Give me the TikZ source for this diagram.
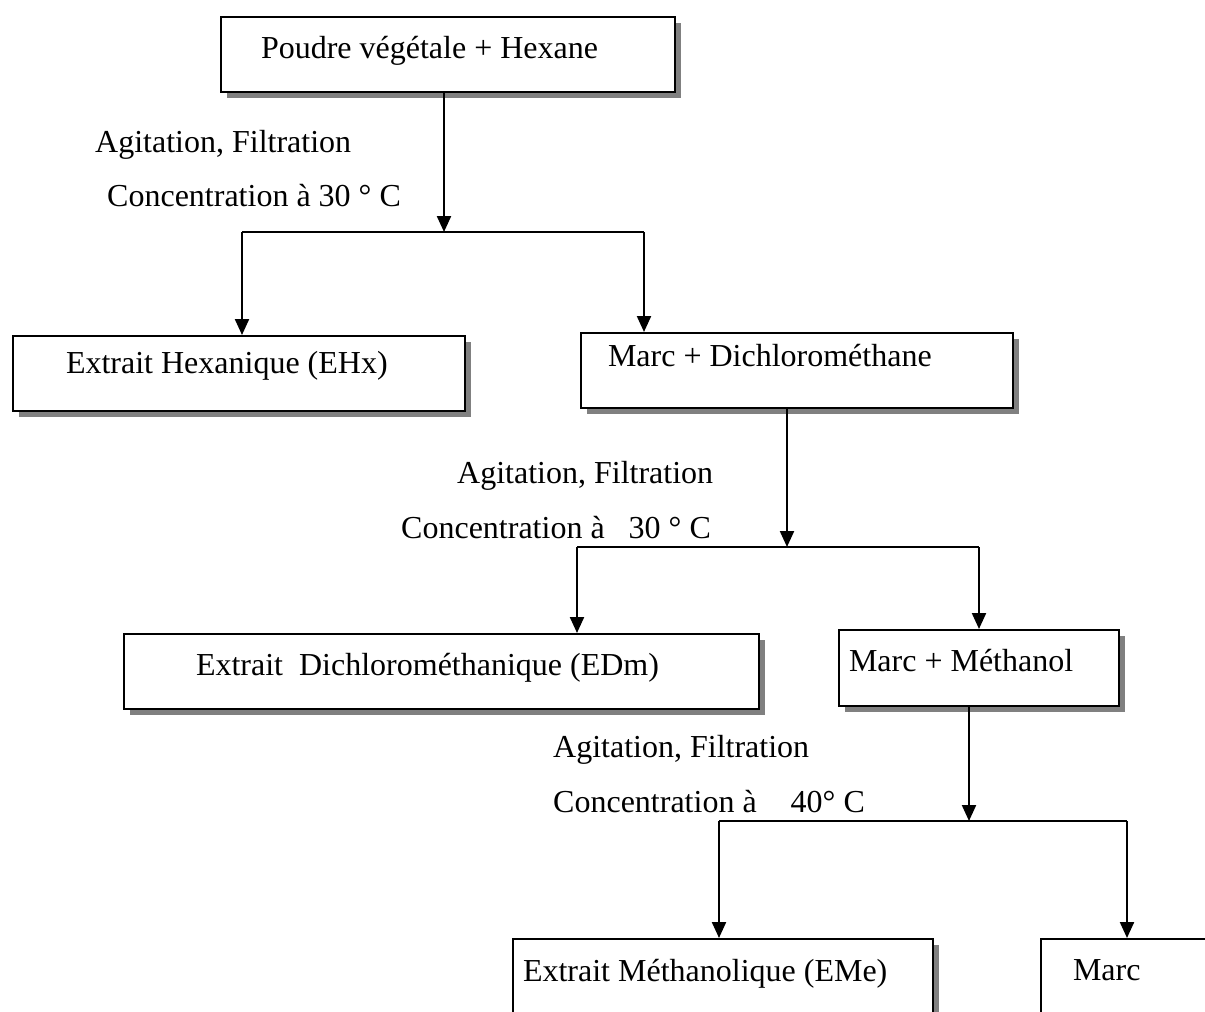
\documentclass[tikz,border=0pt]{standalone}
\usepackage{fontspec}
\setmainfont{Liberation Serif}
\usetikzlibrary{arrows.meta,shadows}
\begin{document}
\begin{tikzpicture}[x=1pt,y=-1pt,
  font=\fontsize{32}{38}\selectfont,
  box/.style={draw, line width=2pt, fill=white, inner ysep=0pt, anchor=north west,
    drop shadow={shadow xshift=6pt, shadow yshift=-6pt, fill=black!50, opacity=1}},
  lbl/.style={anchor=base west, inner sep=0pt},
  line/.style={line width=2.2pt},
  arr/.style={line width=2.2pt, -{Triangle[width=14pt,length=16pt]}}]
\useasboundingbox (0,0) rectangle (1205,1012);
\clip (0,0) rectangle (1205,1012);
% boxes: text height = baseline-top, text depth = bottom-baseline, inner xsep = pad, content width = w-2pad
\node[box, inner xsep=40pt, text height=41pt, text depth=34pt] (b1) at (220,16) {\makebox[374pt][l]{Poudre végétale + Hexane}};
\node[box, inner xsep=53pt, text height=37pt, text depth=38pt] (ehx) at (12,335) {\makebox[346pt][l]{Extrait Hexanique (EHx)}};
\node[box, inner xsep=27pt, text height=33pt, text depth=42pt] (mdc) at (580,332) {\makebox[378pt][l]{Marc + Dichlorométhane}};
\node[box, inner xsep=72pt, text height=41pt, text depth=34pt] (edm) at (123,633) {\makebox[491pt][l]{Extrait\ \ Dichlorométhanique (EDm)}};
\node[box, inner xsep=10pt, text height=41pt, text depth=35pt] (mme) at (838,629) {\makebox[260pt][l]{Marc + Méthanol}};
\node[box, inner xsep=10pt, text height=42pt, text depth=100pt] (eme) at (512,938) {\makebox[400pt][l]{Extrait Méthanolique (EMe)}};
\node[box, inner xsep=32pt, text height=41pt, text depth=100pt] (marc) at (1040,938) {\makebox[136pt][l]{Marc}};
% labels
\node[lbl] (l1a) at (95,152) {Agitation, Filtration};
\node[lbl] (l1b) at (107,206) {Concentration à 30 ° C};
\node[lbl] (l2a) at (457,483) {Agitation, Filtration};
\node[lbl] (l2b) at (401,538) {Concentration à \hspace{16pt}30 ° C};
\node[lbl] (l3a) at (553,757) {Agitation, Filtration};
\node[lbl] (l3b) at (553,812) {Concentration à \hspace{26pt}40° C};
% junctions
\coordinate (j1) at (444,232);
\coordinate (j1l) at (242,232);
\coordinate (j1r) at (644,232);
\coordinate (j2) at (787,547);
\coordinate (j2l) at (577,547);
\coordinate (j2r) at (979,547);
\coordinate (j3) at (969,821);
\coordinate (j3l) at (719,821);
\coordinate (j3r) at (1127,821);
% connectors
\draw[arr] (b1.south -| j1) -- (j1);
\draw[line] (j1l) -- (j1r);
\draw[arr] (j1l) -- (ehx.north -| j1l);
\draw[arr] (j1r) -- (mdc.north -| j1r);
\draw[arr] (mdc.south -| j2) -- (j2);
\draw[line] (j2l) -- (j2r);
\draw[arr] (j2l) -- (edm.north -| j2l);
\draw[arr] (j2r) -- (mme.north -| j2r);
\draw[arr] (mme.south -| j3) -- (j3);
\draw[line] (j3l) -- (j3r);
\draw[arr] (j3l) -- (eme.north -| j3l);
\draw[arr] (j3r) -- (marc.north -| j3r);
\end{tikzpicture}
\end{document}
